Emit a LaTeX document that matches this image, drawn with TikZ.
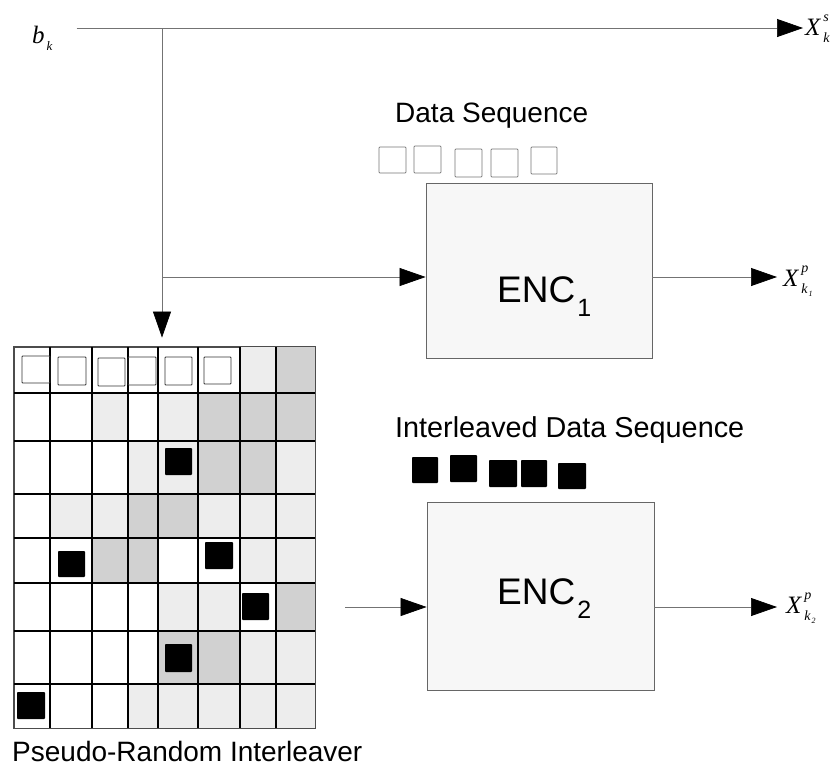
\documentclass[tikz,border=0pt]{standalone}
\usepackage{fontspec}
\setmainfont{Liberation Sans}
\newfontfamily\tms{Liberation Serif}
\usetikzlibrary{arrows.meta,calc}
\colorlet{shD}{black!18}
\colorlet{shL}{black!7}
\newcommand\SmallIt[2]{{\fontsize{#1}{#1}\selectfont\tms\itshape #2}}
\newcommand\SupSub[3]{{\tms\itshape #1}\kern3pt\rlap{\raisebox{14pt}{\SmallIt{14}{#2}}}\raisebox{-7pt}{\SmallIt{14}{#3}}}
\begin{document}
\begin{tikzpicture}[x=1pt,y=-1pt,
  conn/.style={draw=black!55, line width=0.7pt},
  arr/.style={conn, -{Triangle[length=26pt,width=18pt,color=black]}},
  encbox/.style={draw=black!60, fill=black!3, line width=0.8pt, inner sep=0},
  lbl/.style={font=\fontsize{28}{28}\selectfont, anchor=base west, inner sep=0},
  enclbl/.style={font=\fontsize{37}{37}\selectfont, anchor=base west, inner sep=0},
  mathlbl/.style={font=\fontsize{25}{25}\selectfont, anchor=base west, inner sep=0},
  opensq/.style={draw=black!55, line width=0.7pt, rounded corners=0.8pt},
  blacksq/.style={fill=black, rounded corners=0.8pt},
  gridline/.style={draw=black, line width=1.1pt}
]
\useasboundingbox (0,0) rectangle (837,766);

% ---------- labels ----------
\node[mathlbl] (bk) at (32,43) {{\tms\itshape b}\kern2pt\raisebox{-7pt}{\SmallIt{13}{k}}};
\node[mathlbl] (xs) at (805,35) {\SupSub{X}{s}{k}};
\node[mathlbl] (xp1) at (783,286) {\SupSub{X}{p}{k\kern1pt\raisebox{-3pt}{\fontsize{8}{8}\selectfont\tms 1}}};
\node[mathlbl] (xp2) at (786,613) {\SupSub{X}{p}{k\kern1pt\raisebox{-3pt}{\fontsize{8}{8}\selectfont\tms 2}}};
\node[lbl] (dseq) at (395,122) {Data Sequence};
\node[lbl, font=\fontsize{28.8}{29}\selectfont] (iseq) at (395,437) {Interleaved Data Sequence};
\node[lbl, text depth=0pt] (ilv) at (12,761) {Pseudo-Random Interleaver};

% ---------- encoders ----------
\node[encbox, minimum width=226pt, minimum height=175pt] (enc1) at (539,270.5) {};
\node[encbox, minimum width=227pt, minimum height=188pt] (enc2) at (540.5,596) {};
\node[enclbl] (enc1t) at (497,302) {ENC\kern2pt\raisebox{-14pt}{\fontsize{25}{25}\selectfont 1}};
\node[enclbl] (enc2t) at (497,604) {ENC\kern2pt\raisebox{-14pt}{\fontsize{25}{25}\selectfont 2}};

% ---------- sequences above encoders ----------
\foreach \a/\b/\c/\d in {379/147/406/173, 414/146/441/173, 455/149/482/177, 491/149/518/177, 531/147/557/174}
  \draw[opensq] (\a,\b) rectangle (\c,\d);
\foreach \a/\b/\c/\d in {412/457/438/483, 450/455/477/482, 489/460/517/487, 521/460/547/487, 558/463/586/489}
  \fill[blacksq] (\a,\b) rectangle (\c,\d);

% ---------- interleaver grid ----------
\node[draw=black!70, line width=0.8pt, minimum width=301pt, minimum height=381pt, inner sep=0] (grid) at (164.5,537.5) {};
\def\gx{{14,50,92,128,158,198,240,276,315}}
\def\gy{{347,393,441,494,538,583,631,684,728}}
\foreach \c/\r/\s in {7/1/shL, 8/1/shD,
   3/2/shL, 5/2/shL, 6/2/shD, 7/2/shD, 8/2/shD,
   4/3/shL, 5/3/shL, 6/3/shD, 7/3/shD, 8/3/shL,
   2/4/shL, 3/4/shL, 4/4/shD, 5/4/shD, 6/4/shL, 7/4/shL, 8/4/shL,
   3/5/shD, 4/5/shD, 7/5/shL, 8/5/shL,
   5/6/shL, 6/6/shL, 8/6/shD,
   5/7/shD, 6/7/shD, 7/7/shL, 8/7/shL,
   4/8/shL, 5/8/shL, 6/8/shL, 7/8/shL, 8/8/shL}{
  \pgfmathsetmacro\xa{\gx[\c-1]}
  \pgfmathsetmacro\xb{\gx[\c]}
  \pgfmathsetmacro\ya{\gy[\r-1]}
  \pgfmathsetmacro\yb{\gy[\r]}
  \fill[\s] (\xa,\ya) rectangle (\xb,\yb);
}
\foreach \x in {50,92,128,158,198,240,276}
  \draw[gridline] (\x,347) -- (\x,728);
\foreach \y in {393,441,494,538,583,631,684}
  \draw[gridline] (14,\y) -- (315,\y);
\draw[draw=black!70, line width=0.8pt] (grid.north west) rectangle (grid.south east);
\foreach \a/\b/\c/\d in {22/356/50/383, 58/357/86/385, 98/358/125/386, 128/357/156/385, 165/357/192/385, 204/357/231/384}
  \draw[opensq, draw=black!80, line width=0.9pt] (\a,\b) rectangle (\c,\d);
\foreach \a/\b/\c/\d in {165/448/192/475, 58/551/85/577, 205/542/233/569, 242/593/269/620, 165/644/192/672, 17/692/45/719}
  \fill[blacksq] (\a,\b) rectangle (\c,\d);

% ---------- connectors ----------
\coordinate (split) at (162,28);
\coordinate (branch) at (162,277);
\coordinate (in2) at (345,607);
\draw[arr, shorten <=24pt, shorten >=2pt] (bk.east |- split) -- (split -| xs.west);
\draw[arr, shorten >=9pt] (split) -- (split |- grid.north);
\draw[arr] (branch) -- (branch -| enc1.west);
\draw[arr, shorten >=6pt] (branch -| enc1.east) -- (branch -| xp1.west);
\draw[arr] (in2) -- (in2 -| enc2.west);
\draw[arr, shorten >=9pt] (in2 -| enc2.east) -- (in2 -| xp2.west);
\end{tikzpicture}
\end{document}
